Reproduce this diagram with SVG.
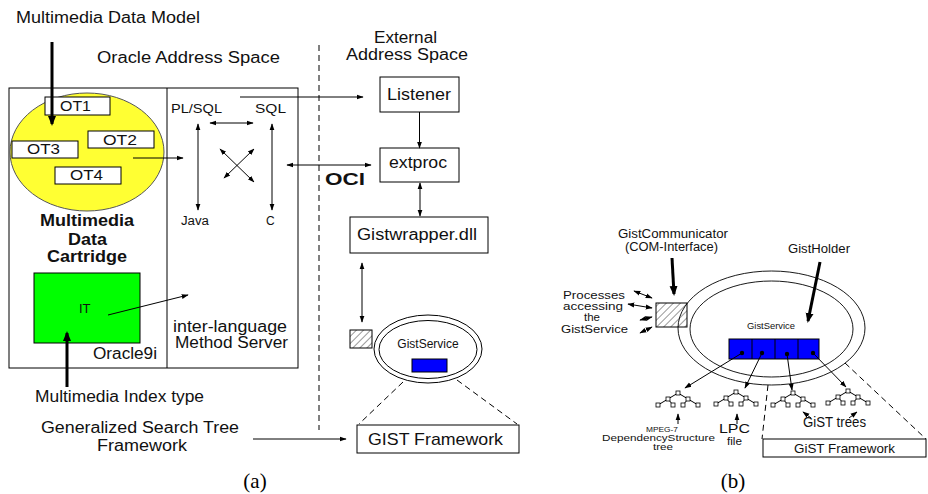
<svg xmlns="http://www.w3.org/2000/svg" width="928" height="494" viewBox="0 0 928 494">
<defs>
<style>
.t{font-family:"Liberation Sans",Arial,sans-serif;fill:#111}
.b{font-weight:bold}
.bx{fill:#fff;stroke:#000;stroke-width:1}
.ln{stroke:#000;stroke-width:1;fill:none}
.th{stroke:#000;stroke-width:3;fill:none}
.ds{stroke:#000;stroke-width:1;fill:none;stroke-dasharray:6 4}
.ar{marker-end:url(#ah)}
.dar{marker-start:url(#ah);marker-end:url(#ah)}
.tn{fill:#fff;stroke:#000;stroke-width:0.8}
</style>
<marker id="ah" viewBox="0 0 10 10" refX="9" refY="5" markerWidth="7" markerHeight="7" markerUnits="userSpaceOnUse" orient="auto-start-reverse"><path d="M0,1.5 L10,5 L0,8.5 z" fill="#000"/></marker>
<marker id="ahb" viewBox="0 0 10 10" refX="8" refY="5" markerWidth="10" markerHeight="10" markerUnits="userSpaceOnUse" orient="auto"><path d="M0,1 L10,5 L0,9 z" fill="#000"/></marker>
<pattern id="hatch" patternUnits="userSpaceOnUse" width="5" height="5" patternTransform="rotate(45)"><line x1="0" y1="0" x2="0" y2="5" stroke="#000" stroke-width="0.8"/></pattern>
<g id="tree">
<path class="ln" d="M0,0 L-10,6 M0,0 L10,6 M-10,6 L-20,12 M-10,6 L-5,12 M10,6 L5,12 M10,6 L20,12" stroke-width="0.8"/>
<rect class="tn" x="-2" y="-2" width="4" height="4"/>
<rect class="tn" x="-12" y="4" width="4" height="4"/>
<rect class="tn" x="8" y="4" width="4" height="4"/>
<rect class="tn" x="-22" y="10" width="4" height="4"/>
<rect class="tn" x="-7" y="10" width="4" height="4"/>
<rect class="tn" x="3" y="10" width="4" height="4"/>
<rect class="tn" x="18" y="10" width="4" height="4"/>
</g>
</defs>
<rect width="928" height="494" fill="#fff"/>

<!-- ===== (a) ===== -->
<g id="oracle-box">
<rect class="bx" x="9" y="88" width="289" height="280"/>
<line class="ln" x1="167" y1="88" x2="167" y2="368"/>
<text class="t" x="97" y="63" font-size="16" textLength="183" lengthAdjust="spacingAndGlyphs">Oracle Address Space</text>
<text class="t" x="93" y="359" font-size="16" textLength="64" lengthAdjust="spacingAndGlyphs">Oracle9i</text>
</g>

<g id="cartridge">
<ellipse cx="87" cy="152" rx="77" ry="59" fill="#ffff33" stroke="#555" stroke-width="1"/>
<text class="t b" x="40" y="226" font-size="16" textLength="94" lengthAdjust="spacingAndGlyphs">Multimedia</text>
<text class="t b" x="68" y="245" font-size="16" textLength="39" lengthAdjust="spacingAndGlyphs">Data</text>
<text class="t b" x="47" y="262" font-size="16" textLength="80" lengthAdjust="spacingAndGlyphs">Cartridge</text>
</g>
<g id="ot1"><rect class="bx" x="45" y="97" width="65" height="18"/><text class="t" x="60" y="111" font-size="15" textLength="31" lengthAdjust="spacingAndGlyphs">OT1</text></g>
<g id="ot2"><rect class="bx" x="88" y="131" width="66" height="17"/><text class="t" x="103" y="145" font-size="15" textLength="34" lengthAdjust="spacingAndGlyphs">OT2</text></g>
<g id="ot3"><rect class="bx" x="12" y="141" width="66" height="17"/><text class="t" x="27" y="154" font-size="15" textLength="33" lengthAdjust="spacingAndGlyphs">OT3</text></g>
<g id="ot4"><rect class="bx" x="55" y="167" width="66" height="17"/><text class="t" x="70" y="180" font-size="15" textLength="33" lengthAdjust="spacingAndGlyphs">OT4</text></g>

<g id="it">
<rect x="34" y="273" width="106" height="70" fill="#00ff00" stroke="#000" stroke-width="1"/>
<text class="t" x="79" y="313" font-size="13">IT</text>
</g>

<g id="method-server">
<text class="t" x="171" y="113" font-size="13" textLength="51" lengthAdjust="spacingAndGlyphs">PL/SQL</text>
<text class="t" x="255" y="113" font-size="13" textLength="31" lengthAdjust="spacingAndGlyphs">SQL</text>
<text class="t" x="181" y="225" font-size="12" textLength="28" lengthAdjust="spacingAndGlyphs">Java</text>
<text class="t" x="266" y="225" font-size="12">C</text>
<text class="t" x="173" y="332" font-size="16" textLength="114" lengthAdjust="spacingAndGlyphs">inter-language</text>
<text class="t" x="175" y="348" font-size="16" textLength="113" lengthAdjust="spacingAndGlyphs">Method Server</text>
</g>

<g id="labels-a">
<text class="t" x="16" y="23" font-size="16" textLength="184" lengthAdjust="spacingAndGlyphs">Multimedia Data Model</text>
<text class="t" x="35" y="402" font-size="16" textLength="169" lengthAdjust="spacingAndGlyphs">Multimedia Index type</text>
<text class="t" x="41" y="433" font-size="16" textLength="198" lengthAdjust="spacingAndGlyphs">Generalized Search Tree</text>
<text class="t" x="97" y="451" font-size="16" textLength="90" lengthAdjust="spacingAndGlyphs">Framework</text>
<text class="t" x="374" y="43" font-size="16" textLength="63" lengthAdjust="spacingAndGlyphs">External</text>
<text class="t" x="346" y="60" font-size="16" textLength="122" lengthAdjust="spacingAndGlyphs">Address Space</text>
<text class="t b" x="325" y="185" font-size="16" textLength="40" lengthAdjust="spacingAndGlyphs">OCI</text>
<text x="255" y="488" font-size="21" text-anchor="middle" font-family="Liberation Serif,Times New Roman,serif">(a)</text>
</g>

<g id="listener"><rect class="bx" x="380" y="77" width="79" height="35"/><text class="t" x="387" y="100" font-size="16" textLength="64" lengthAdjust="spacingAndGlyphs">Listener</text></g>
<g id="extproc"><rect class="bx" x="380" y="148" width="79" height="34"/><text class="t" x="389" y="168" font-size="16" textLength="58" lengthAdjust="spacingAndGlyphs">extproc</text></g>
<g id="gistwrapper"><rect class="bx" x="350" y="217" width="138" height="36"/><text class="t" x="357" y="240" font-size="16" textLength="120" lengthAdjust="spacingAndGlyphs">Gistwrapper.dll</text></g>

<g id="gistservice-a">
<rect x="350" y="330" width="22" height="18" fill="url(#hatch)" stroke="#000" stroke-width="1"/>
<ellipse cx="428" cy="349" rx="54" ry="34" fill="#fff" stroke="#000" stroke-width="1"/>
<ellipse cx="428" cy="349.5" rx="49" ry="29" fill="#fff" stroke="#000" stroke-width="1"/>
<text class="t" x="428" y="348" font-size="12" text-anchor="middle">GistService</text>
<rect x="412" y="359" width="35" height="13" fill="#0000ff" stroke="#000" stroke-width="1"/>
</g>

<g id="gist-framework-a"><rect class="bx" x="357" y="425" width="162" height="28"/><text class="t" x="368" y="445" font-size="17" textLength="135" lengthAdjust="spacingAndGlyphs">GIST Framework</text></g>

<!-- ===== (b) ===== -->
<g id="gistservice-b">
<rect x="656" y="303" width="31" height="24" fill="url(#hatch)" stroke="#000" stroke-width="1"/>
<ellipse cx="771.5" cy="328" rx="93.5" ry="57" fill="none" stroke="#000" stroke-width="0.9"/>
<ellipse cx="771.5" cy="329" rx="81.5" ry="48" fill="none" stroke="#000" stroke-width="0.9"/>
<text class="t" x="747" y="329" font-size="9" textLength="48" lengthAdjust="spacingAndGlyphs">GistService</text>
<rect x="729" y="339" width="90" height="20" fill="#0000ff" stroke="#000" stroke-width="1"/>
<path class="ln" d="M752,339 V359 M775,339 V359 M798,339 V359"/>
<circle cx="742" cy="353" r="2.2" fill="#000"/>
<circle cx="762" cy="353" r="2.2" fill="#000"/>
<circle cx="787" cy="354" r="2.2" fill="#000"/>
<circle cx="813" cy="353" r="2.2" fill="#000"/>
</g>

<g id="labels-b">
<text class="t" x="618" y="238" font-size="12" textLength="110" lengthAdjust="spacingAndGlyphs">GistCommunicator</text>
<text class="t" x="625" y="251" font-size="12" textLength="93" lengthAdjust="spacingAndGlyphs">(COM-Interface)</text>
<text class="t" x="788" y="253" font-size="12" textLength="62" lengthAdjust="spacingAndGlyphs">GistHolder</text>
<text class="t" x="563" y="299" font-size="11" textLength="62" lengthAdjust="spacingAndGlyphs">Processes</text>
<text class="t" x="563" y="310" font-size="11" textLength="60" lengthAdjust="spacingAndGlyphs">accessing</text>
<text class="t" x="584" y="321" font-size="11" textLength="16" lengthAdjust="spacingAndGlyphs">the</text>
<text class="t" x="561" y="333" font-size="11" textLength="67" lengthAdjust="spacingAndGlyphs">GistService</text>
<text class="t" x="646" y="432" font-size="8" textLength="32" lengthAdjust="spacingAndGlyphs">MPEG-7</text>
<text class="t" x="602" y="441" font-size="9" textLength="113" lengthAdjust="spacingAndGlyphs">DependencyStructure</text>
<text class="t" x="653" y="450" font-size="9" textLength="20" lengthAdjust="spacingAndGlyphs">tree</text>
<text class="t" x="719" y="433" font-size="13" textLength="31" lengthAdjust="spacingAndGlyphs">LPC</text>
<text class="t" x="727" y="445" font-size="11" textLength="15" lengthAdjust="spacingAndGlyphs">file</text>
<text class="t" x="803" y="427" font-size="14" textLength="63" lengthAdjust="spacingAndGlyphs">GiST trees</text>
<text x="733" y="488" font-size="21" text-anchor="middle" font-family="Liberation Serif,Times New Roman,serif">(b)</text>
</g>

<g id="trees">
<use href="#tree" x="678" y="393"/>
<use href="#tree" x="736" y="392"/>
<use href="#tree" x="793" y="393"/>
<use href="#tree" x="848" y="391"/>
</g>

<g id="gist-framework-b"><rect class="bx" x="763" y="439" width="163" height="18"/><text class="t" x="794" y="453" font-size="13" textLength="101" lengthAdjust="spacingAndGlyphs">GiST Framework</text></g>

<!-- ===== connectors ===== -->
<g id="connectors">
<line class="ds" x1="319" y1="45" x2="319" y2="430"/>
<line class="th" x1="52" y1="42" x2="52" y2="124" marker-end="url(#ahb)"/>
<line class="th" x1="67" y1="387" x2="67" y2="333" marker-end="url(#ahb)"/>
<line class="ln ar" x1="133" y1="158" x2="183" y2="158"/>
<line class="ln ar" x1="108" y1="315" x2="188" y2="295"/>
<line class="ln dar" x1="210" y1="123" x2="253" y2="123"/>
<line class="ln dar" x1="198" y1="124" x2="198" y2="210"/>
<line class="ln dar" x1="272" y1="124" x2="272" y2="210"/>
<line class="ln dar" x1="220" y1="149" x2="254" y2="182"/>
<line class="ln dar" x1="254" y1="149" x2="224" y2="178"/>
<line class="ln ar" x1="240" y1="97" x2="363" y2="97"/>
<line class="ln dar" x1="287" y1="165" x2="371" y2="165"/>
<line class="ln ar" x1="419.5" y1="112" x2="419.5" y2="148"/>
<line class="ln dar" x1="420" y1="183" x2="420" y2="216"/>
<line class="ln dar" x1="362" y1="263" x2="362" y2="322"/>
<line class="ds" x1="403" y1="382" x2="359" y2="424"/>
<line class="ds" x1="457" y1="380" x2="517" y2="424"/>
<line class="ln ar" x1="253" y1="439" x2="346" y2="439"/>

<line class="th" x1="672" y1="258" x2="674" y2="294" stroke-width="2.5" marker-end="url(#ahb)"/>
<line class="th" x1="820" y1="262" x2="808" y2="321" stroke-width="2.5" marker-end="url(#ahb)"/>
<line class="ln dar" x1="634" y1="291" x2="652" y2="298" stroke-width="0.8"/>
<line class="ln dar" x1="628" y1="304" x2="652" y2="308" stroke-width="0.8"/>
<line class="ln dar" x1="640" y1="320" x2="652" y2="317" stroke-width="0.8"/>
<line class="ln dar" x1="640" y1="333" x2="652" y2="327" stroke-width="0.8"/>
<line class="ln ar" x1="742" y1="353" x2="685" y2="388"/>
<line class="ln ar" x1="762" y1="353" x2="745" y2="388"/>
<line class="ln ar" x1="787" y1="354" x2="792" y2="390"/>
<line class="ln ar" x1="813" y1="353" x2="846" y2="387"/>
<line class="ln ar" x1="678" y1="424" x2="678" y2="414" stroke-width="0.8"/>
<line class="ln ar" x1="737" y1="424" x2="737" y2="414" stroke-width="0.8"/>
<line class="ln ar" x1="811" y1="418" x2="803" y2="412" stroke-width="0.8"/>
<line class="ln ar" x1="849" y1="418" x2="857" y2="412" stroke-width="0.8"/>
<line class="ds" x1="768" y1="385" x2="762" y2="439" stroke-width="0.8"/>
<line class="ds" x1="845" y1="363" x2="926" y2="439" stroke-width="0.8"/>
</g>
</svg>
